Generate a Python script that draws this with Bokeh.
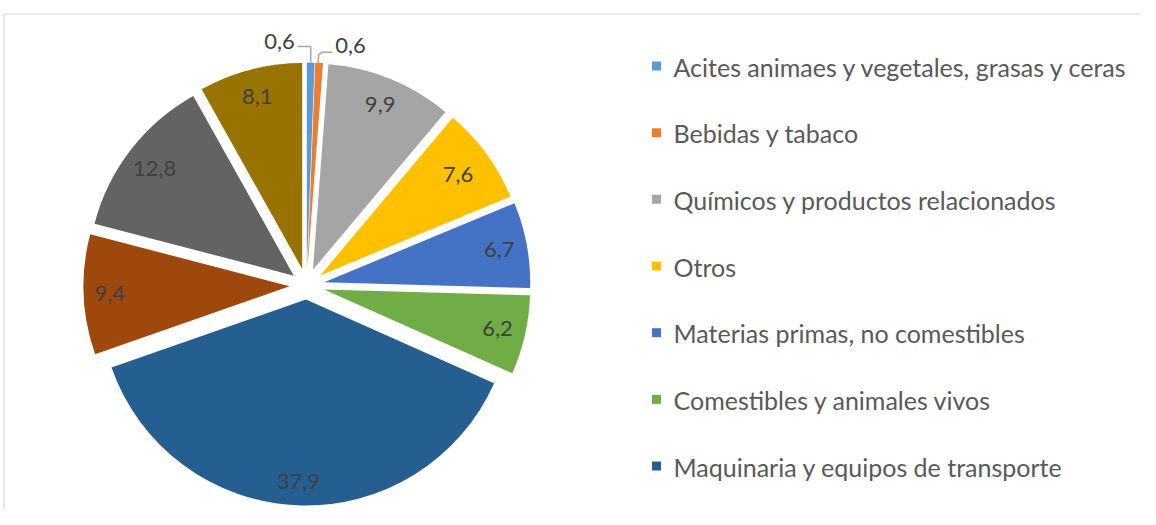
import numpy as np
from bokeh.plotting import figure
from bokeh.models import Range1d
from bokeh.core.properties import value
from bokeh.embed import file_html
from bokeh.resources import INLINE

# ---- data ----
VALUES = [0.6, 0.6, 9.9, 7.6, 6.7, 6.2, 37.9, 9.4, 12.8, 8.1]
LEGEND_LABELS = [
    "Acites animaes y vegetales, grasas y ceras",
    "Bebidas y tabaco",
    "Químicos y productos relacionados",
    "Otros",
    "Materias primas, no comestibles",
    "Comestibles y animales vivos",
    "Maquinaria y equipos de transporte",
]

# ---- styles ----
COLORS = ["#5B9BD5", "#ED7D31", "#A5A5A5", "#FFC000", "#4472C4",
          "#70AD47", "#255E91", "#9E480E", "#636363", "#997300"]
EXPLODE = [17, 17, 17, 17, 18, 18, 14, 17, 16, 17]
LABEL_R = [0, 0, 178, 171, 178, 178, 182, 180, 176, 178]
FONT = "Lato"
FS_LABEL = "22px"
FS_LEGEND = "25px"

W, H = 1140, 509


def sx(x):
    return x


def sy(y):
    return H - y


CX, CY, R = sx(306), sy(285), 206

p = figure(width=W, height=H, x_range=Range1d(0, W), y_range=Range1d(0, H),
           output_backend="svg", toolbar_location=None, min_border=0)
p.axis.visible = False
p.grid.visible = False
p.outline_line_color = None
p.background_fill_color = "white"
p.border_fill_color = "white"

# frame
p.line([sx(3.5), sx(3.5), W], [0, sy(13.5), sy(13.5)], line_color="#D9D9D9", line_width=1.2)

vals = np.array(VALUES)
frac = vals / vals.sum()
cum = np.cumsum(frac)
start_deg = 360 * (cum - frac)
end_deg = 360 * cum
mid = np.radians((start_deg + end_deg) / 2)
ex = np.array(EXPLODE, dtype=float)
tx = CX + ex * np.sin(mid)
ty = CY + ex * np.cos(mid)

p.wedge(x=tx, y=ty, radius=R,
        start_angle=np.radians(90 - end_deg), end_angle=np.radians(90 - start_deg),
        direction="anticlock", fill_color=COLORS, line_color=None)

labels = [f"{v:.1f}".replace(".", ",") for v in VALUES]

# inside labels
in_idx = [i for i, v in enumerate(VALUES) if v >= 2]
lx = [tx[i] + LABEL_R[i] * np.sin(mid[i]) for i in in_idx]
ly = [ty[i] + LABEL_R[i] * np.cos(mid[i]) for i in in_idx]
p.text(x=lx, y=ly, text=[labels[i] for i in in_idx], text_align="center",
       text_baseline="middle", text_color="#404040",
       text_font=value(FONT), text_font_size=FS_LABEL)

# outside labels with leader lines (small slices)
out_idx = [i for i, v in enumerate(VALUES) if v < 2]
for k, i in enumerate(out_idx):
    ox = tx[i] + R * np.sin(mid[i])
    oy = ty[i] + R * np.cos(mid[i])
    if k == 0:
        xs = [ox, ox, ox - 13]
        ys = [oy, oy + 16, oy + 16]
        p.line(xs, ys, line_color="#A6A6A6", line_width=1.5)
        p.text(x=[ox - 16], y=[oy + 21], text=[labels[i]], text_align="right",
               text_baseline="middle", text_color="#404040",
               text_font=value(FONT), text_font_size=FS_LABEL)
    else:
        xs = [ox - 1, ox - 0.5, ox + 3, ox + 13]
        ys = [oy, oy + 8, oy + 10.5, oy + 10.5]
        p.line(xs, ys, line_color="#A6A6A6", line_width=1.5)
        p.text(x=[ox + 16], y=[oy + 17], text=[labels[i]], text_align="left",
               text_baseline="middle", text_color="#404040",
               text_font=value(FONT), text_font_size=FS_LABEL)

# legend (only the first seven entries are shown)
n = len(LEGEND_LABELS)
ly0 = [sy(66 + j * 66.67) for j in range(n)]
p.rect(x=[sx(656)] * n, y=[v + 0.5 for v in ly0], width=9, height=9,
       fill_color=COLORS[:n], line_color=None)
p.text(x=[sx(673)] * n, y=ly0, text=LEGEND_LABELS, text_align="left",
       text_baseline="middle", text_color="#595959",
       text_font=value(FONT), text_font_size=FS_LEGEND)

open("out.html", "w").write(file_html(p, INLINE))
